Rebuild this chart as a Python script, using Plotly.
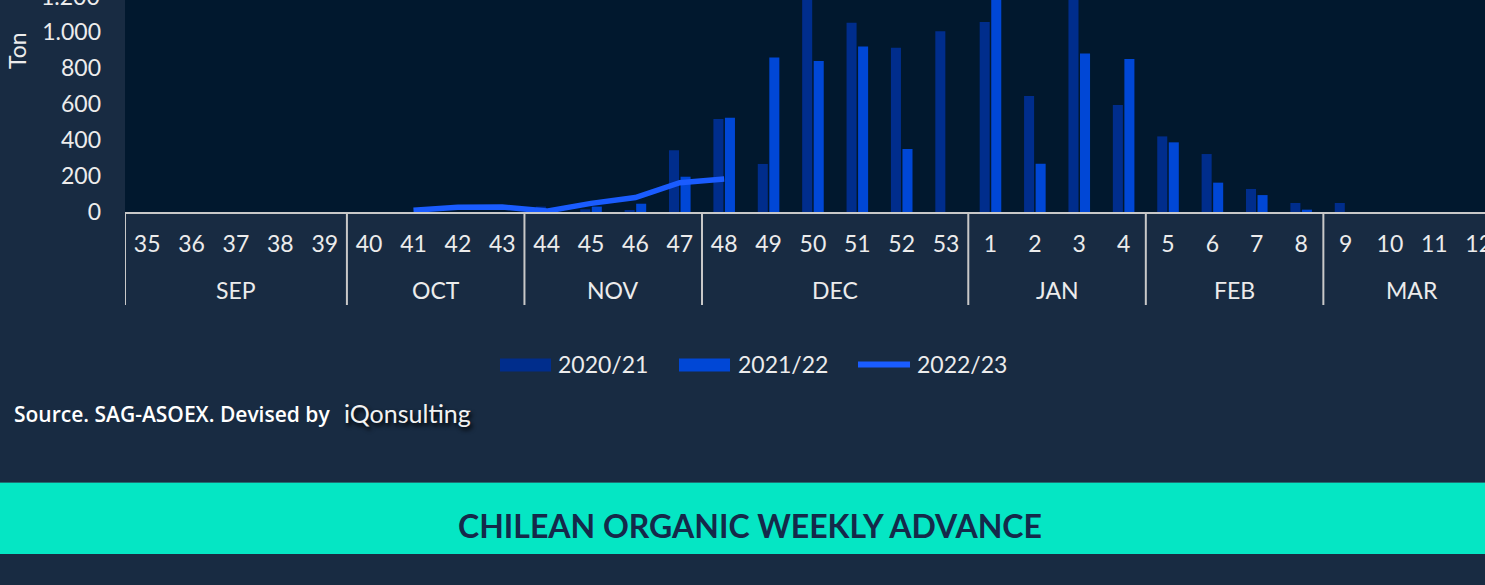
import plotly.graph_objects as go

# ---------------- data ----------------
weeks = ["35", "36", "37", "38", "39", "40", "41", "42", "43", "44", "45", "46", "47",
         "48", "49", "50", "51", "52", "53", "1", "2", "3", "4", "5", "6", "7", "8",
         "9", "10", "11", "12"]
months = ["SEP"] * 5 + ["OCT"] * 4 + ["NOV"] * 4 + ["DEC"] * 6 + ["JAN"] * 4 + ["FEB"] * 4 + ["MAR"] * 4

s2020_21 = [0, 0, 0, 0, 0, 0, 0, 0, 0, 30, 15, 10, 343,
            517, 267, 1350, 1052, 913, 1004, 1056, 644, 1300, 594, 420, 322, 128, 50,
            50, 0, 0, 0]
s2021_22 = [0, 0, 0, 0, 0, 0, 0, 0, 0, 0, 30, 46, 196,
            524, 859, 839, 920, 350, 0, 1250, 268, 881, 850, 387, 163, 94, 13,
            0, 0, 0, 0]
s2022_23 = [None, None, None, None, None, None, 10, 26, 28, 5, 48, 80, 163,
            183, None, None, None, None, None, None, None, None, None, None, None, None, None,
            None, None, None, None]

series_names = ["2020/21", "2021/22", "2022/23"]
y_ticks = [0, 200, 400, 600, 800, 1000]

# ---------------- style ----------------
W, H = 1485, 585
PL, PT, PB = 125, 0, 212          # plot left / top / bottom in pixels
FONT = "Lato"
C_DARK = "#002d8c"
C_MID = "#0047d6"
C_LINE = "#1a5cff"
PAPER = "#182b42"
PLOT = "#01182e"
TXT = "#ececec"
AX = "#c8c8c8"


def px_x(px):
    return (px - PL) / (W - PL)


def px_y(py):
    return (PB - py) / (PB - PT)


fig = go.Figure()
fig.add_trace(go.Bar(x=weeks, y=s2020_21, name=series_names[0], marker_color=C_DARK,
                     marker_line_width=0))
fig.add_trace(go.Bar(x=weeks, y=s2021_22, name=series_names[1], marker_color=C_MID,
                     marker_line_width=0))
fig.add_trace(go.Scatter(x=weeks, y=s2022_23, name=series_names[2], mode="lines",
                         line=dict(color=C_LINE, width=5.5), connectgaps=False))

ymax = PB / 0.18  # 0.18 px per ton

fig.update_layout(
    width=W, height=H, autosize=False,
    margin=dict(l=PL, r=0, t=PT, b=H - PB, pad=0, autoexpand=False),
    paper_bgcolor=PAPER, plot_bgcolor=PLOT,
    barmode="group", bargap=0.48, bargroupgap=0.13,
    showlegend=False,
    separators=",.",
    font=dict(family=FONT, color=TXT, size=23),
    xaxis=dict(type="category", categoryorder="array", categoryarray=weeks,
               range=[-0.5, (W - 147) / 44.39], automargin=False,
               showline=True, linecolor=AX, linewidth=2,
               showgrid=False, ticks="", ticklabelstandoff=10,
               tickfont=dict(size=23, color=TXT, family=FONT)),
    yaxis=dict(range=[0, ymax], tickvals=y_ticks, separatethousands=True,
               showgrid=False, zeroline=False, showline=False, ticks="",
               ticklabelstandoff=23, automargin=False,
               tickfont=dict(size=23, color=TXT, family=FONT)),
)

ann = []
shapes = []

# month groups: dividers and labels
groups = []
for i, m in enumerate(months):
    if not groups or groups[-1][0] != m:
        groups.append([m, i, i])
    else:
        groups[-1][2] = i
for m, i0, i1 in groups:
    shapes.append(dict(type="line", xref="x", yref="paper", x0=i0 - 0.5, x1=i0 - 0.5,
                       y0=0, y1=px_y(305), line=dict(color=AX, width=2), layer="above"))
    ann.append(dict(text=m, xref="x", yref="paper", x=(i0 + i1) / 2, y=px_y(290),
                    xanchor="center", yanchor="middle", showarrow=False,
                    font=dict(size=23, color=TXT, family=FONT)))
last = groups[-1][2] + 0.5
shapes.append(dict(type="line", xref="x", yref="paper", x0=last, x1=last,
                   y0=0, y1=px_y(305), line=dict(color=AX, width=2), layer="above"))

# partially visible top tick label
ann.append(dict(text="1.200", xref="paper", yref="paper", x=px_x(102), y=px_y(-4),
                xanchor="right", yanchor="middle", showarrow=False,
                font=dict(size=23, color=TXT, family=FONT)))
# y-axis title
ann.append(dict(text="Ton", xref="paper", yref="paper", x=px_x(17), y=px_y(51),
                xanchor="center", yanchor="middle", textangle=-90, showarrow=False,
                font=dict(size=23, color=TXT, family=FONT)))

# manual legend
leg = [(500, 551, 556, C_DARK, "bar", series_names[0]),
       (679, 730, 736, C_MID, "bar", series_names[1]),
       (858, 910, 915, C_LINE, "line", series_names[2])]
for x0, x1, tx, col, kind, name in leg:
    if kind == "bar":
        shapes.append(dict(type="rect", xref="paper", yref="paper",
                           x0=px_x(x0), x1=px_x(x1), y0=px_y(371.5), y1=px_y(358.5),
                           fillcolor=col, line=dict(width=0), layer="above"))
    else:
        shapes.append(dict(type="line", xref="paper", yref="paper",
                           x0=px_x(x0), x1=px_x(x1), y0=px_y(364.5), y1=px_y(364.5),
                           line=dict(color=col, width=6), layer="above"))
    ann.append(dict(text=name, xref="paper", yref="paper", x=px_x(tx), y=px_y(364),
                    xanchor="left", yanchor="middle", showarrow=False,
                    font=dict(size=23, color=TXT, family=FONT)))

# source
ann.append(dict(text="Source. SAG-ASOEX. Devised by", xref="paper", yref="paper",
                x=px_x(12), y=px_y(414), xanchor="left", yanchor="middle", showarrow=False,
                font=dict(size=21, color="#ffffff", family="Open Sans", weight=600)))
ann.append(dict(text="iQonsulting", xref="paper", yref="paper",
                x=px_x(342), y=px_y(413), xanchor="left", yanchor="middle", showarrow=False,
                font=dict(size=25, color="#f2f2f2", family=FONT,
                          shadow="2px 3px 4px #000000")))

# teal band
shapes.append(dict(type="rect", xref="paper", yref="paper",
                   x0=px_x(0), x1=px_x(W), y0=px_y(554), y1=px_y(483),
                   fillcolor="#05e6c4", line=dict(width=0), layer="below"))
shapes.append(dict(type="line", xref="paper", yref="paper",
                   x0=px_x(0), x1=px_x(W), y0=px_y(482.5), y1=px_y(482.5),
                   line=dict(color="#1f6f74", width=1), layer="below"))
ann.append(dict(text="<b>CHILEAN ORGANIC WEEKLY ADVANCE</b>", xref="paper", yref="paper",
                x=px_x(750), y=px_y(525), xanchor="center", yanchor="middle",
                showarrow=False, font=dict(size=32, color="#15294a", family=FONT)))

fig.update_layout(annotations=ann, shapes=shapes)
fig.write_html("out.html",
               config={"responsive": False, "displayModeBar": False},
               post_script=("document.documentElement.style.overflow='hidden';"
                            "document.body.style.margin='0px';"
                            "document.body.style.overflow='hidden';"
                            "document.body.style.background='" + PAPER + "';"))
